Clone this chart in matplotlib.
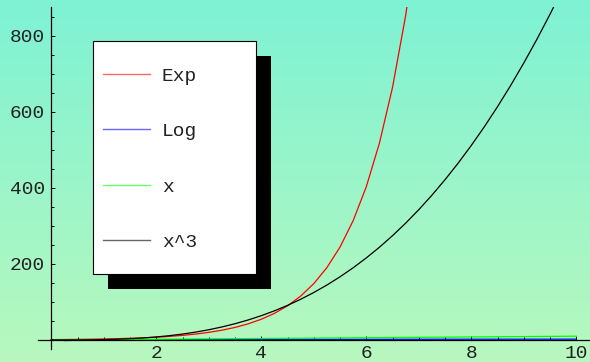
import numpy as np
import matplotlib
matplotlib.use("Agg")
import matplotlib.pyplot as plt
import matplotlib.patches as mpatches
from matplotlib.ticker import FixedLocator

# ---- data -------------------------------------------------------------
x_grid = [0, 0.25, 0.5, 0.75, 1, 1.25, 1.5, 1.75, 2, 2.25, 2.5, 2.75, 3,
          3.25, 3.5, 3.75, 4, 4.25, 4.5, 4.75, 5, 5.25, 5.5, 5.75, 6, 6.25,
          6.5, 6.75, 7, 7.25, 7.5, 7.75, 8, 8.25, 8.5, 8.75, 9, 9.25, 9.5,
          9.75, 10]

exp_vals = [1.0, 1.284, 1.649, 2.117, 2.718, 3.490, 4.482, 5.755, 7.389,
            9.488, 12.18, 15.64, 20.09, 25.79, 33.12, 42.52, 54.60, 70.11,
            90.02, 115.6, 148.4, 190.6, 244.7, 314.2, 403.4, 518.0, 665.1,
            854.1, 1096.6, 1408.1, 1808.0, 2321.6, 2981.0, 3827.6, 4914.8,
            6310.7, 8103.1, 10404.6, 13359.7, 17154.2, 22026.5]

log_x = x_grid[1:]
log_vals = [-1.386, -0.693, -0.288, 0.0, 0.223, 0.405, 0.560, 0.693, 0.811,
            0.916, 1.012, 1.099, 1.179, 1.253, 1.322, 1.386, 1.447, 1.504,
            1.558, 1.609, 1.658, 1.705, 1.749, 1.792, 1.833, 1.872, 1.910,
            1.946, 1.981, 2.015, 2.048, 2.079, 2.110, 2.140, 2.169, 2.197,
            2.225, 2.251, 2.277, 2.303]

lin_x = [0, 10]
lin_vals = [0, 10]

cube_vals = [0, 0.0156, 0.125, 0.422, 1, 1.953, 3.375, 5.359, 8, 11.39,
             15.63, 20.80, 27, 34.33, 42.88, 52.73, 64, 76.77, 91.13, 107.2,
             125, 144.7, 166.4, 190.1, 216, 244.1, 274.6, 307.5, 343, 381.1,
             421.9, 465.5, 512, 561.5, 614.1, 669.9, 729, 791.5, 857.4,
             926.9, 1000]

series_labels = ["Exp", "Log", "x", "x^3"]
series_colors = ["#ff0000", "#0000ff", "#00ff00", "#000000"]

x_major = [2, 4, 6, 8, 10]
x_minor = [0.5, 1, 1.5, 2.5, 3, 3.5, 4.5, 5, 5.5, 6.5, 7, 7.5, 8.5, 9, 9.5]
y_major = [200, 400, 600, 800]
y_minor = [50, 100, 150, 250, 300, 350, 450, 500, 550, 650, 700, 750, 850]

# ---- figure -----------------------------------------------------------
W, H = 590, 362
fig = plt.figure(figsize=(W / 100, H / 100), dpi=100)
ax = fig.add_axes([0, 0, 1, 1])
ax.patch.set_visible(False)

# pixel -> data mapping: origin at (51.3, 340), 52.5 px per x unit, 0.38 px per y unit
x0_px, y0_px, sx, sy = 51.3, 340.0, 52.5, 0.38
xlim = (-x0_px / sx, (W - x0_px) / sx)
ylim = (-(H - y0_px) / sy, y0_px / sy)
ax.set_xlim(*xlim)
ax.set_ylim(*ylim)

# vertical background gradient
top = np.array([126, 242, 212]) / 255.0
bot = np.array([184, 248, 190]) / 255.0
t = np.linspace(0, 1, 256)[:, None]
grad = (top[None, :] * (1 - t) + bot[None, :] * t)[:, None, :]
ax.imshow(grad, extent=[xlim[0], xlim[1], ylim[0], ylim[1]],
          aspect="auto", zorder=0, interpolation="bilinear")

# curves, clipped to the plot range
y_top = 876
clip = mpatches.Rectangle((-1, -60), 12, y_top + 60, transform=ax.transData)
lines = []
for xs, ys, lab, col in zip([x_grid, log_x, lin_x, x_grid],
                            [exp_vals, log_vals, lin_vals, cube_vals],
                            series_labels, series_colors):
    ln, = ax.plot(xs, ys, color=col, lw=0.9, label=lab, zorder=2)
    ln.set_clip_path(clip)
    lines.append(ln)

# axes through the origin
for side in ("top", "right"):
    ax.spines[side].set_visible(False)
ax.spines["left"].set_position(("data", 0))
ax.spines["bottom"].set_position(("data", 0))
ax.spines["left"].set_bounds(-23, y_top)
ax.spines["bottom"].set_bounds(-0.25, 10.4)
for side in ("left", "bottom"):
    ax.spines[side].set_linewidth(0.9)
    ax.spines[side].set_zorder(3)

ax.xaxis.set_major_locator(FixedLocator(x_major))
ax.xaxis.set_minor_locator(FixedLocator(x_minor))
ax.yaxis.set_major_locator(FixedLocator(y_major))
ax.yaxis.set_minor_locator(FixedLocator(y_minor))
ax.set_xticklabels([str(v) for v in x_major])
ax.set_yticklabels([str(v) for v in y_major])

mono = "Liberation Mono"
ax.tick_params(which="major", direction="in", length=3.0, width=0.7,
               labelsize=14, colors="black")
ax.tick_params(which="minor", direction="in", length=2.0, width=0.7)
ax.tick_params(axis="y", pad=4.5)
ax.tick_params(axis="x", pad=3.5)
for lab in ax.get_xticklabels() + ax.get_yticklabels():
    lab.set_family(mono)
    lab.set_color("#222222")

# legend box with drop shadow (pixel geometry)
bx, by, bw, bh = 93.3, 41.0, 162.4, 233.3
off = 15

def fig_rect(px, py, pw, ph, **kw):
    return mpatches.Rectangle((px / W, 1 - (py + ph) / H), pw / W, ph / H,
                              transform=fig.transFigure, **kw)

fig.add_artist(fig_rect(bx + off, by + off, bw, bh, facecolor="black",
                        edgecolor="none", zorder=3))
fig.add_artist(fig_rect(bx, by, bw, bh, facecolor="white",
                        edgecolor="black", lw=0.8, zorder=4))

fs = 14
fs_px = fs * 100 / 72
leg = fig.legend(handles=lines, labels=series_labels,
                 loc="center left",
                 bbox_to_anchor=(102.7 / W, 1 - (by + bh / 2 + 1.5) / H),
                 bbox_transform=fig.transFigure,
                 frameon=False, borderpad=0, borderaxespad=0,
                 handlelength=47.3 / fs_px, handletextpad=11.7 / fs_px,
                 labelspacing=1.95, prop={"family": mono, "size": fs})
leg.set_zorder(5)
for h in leg.legend_handles:
    h.set_linewidth(1.0)
    h.set_alpha(0.6)
for txt in leg.get_texts():
    txt.set_color("#222222")

fig.savefig("out.png", dpi=100)
